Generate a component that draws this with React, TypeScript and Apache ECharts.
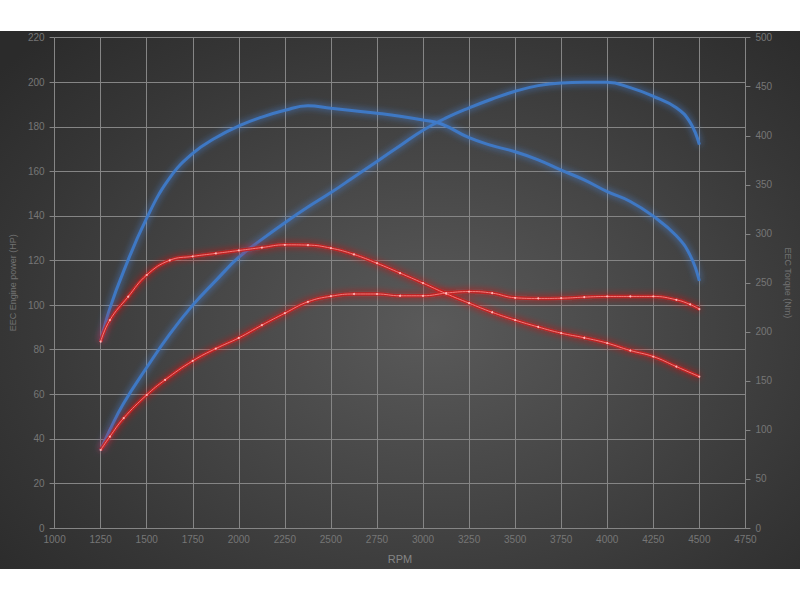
import React, { useEffect, useRef } from "react";
import * as echarts from "echarts";

// Tuned (blue) power, HP, left axis
const bluePowerRpm = [1250, 1300, 1375, 1500, 1625, 1750, 1875, 2000, 2125, 2250, 2375, 2500, 2625, 2750, 2875, 3000, 3125, 3250, 3375, 3500, 3625, 3750, 3875, 4000, 4125, 4250, 4375, 4450, 4500];
const bluePowerHp = [35, 44, 56, 72, 87, 100, 111, 121.5, 129.5, 137, 144, 150.5, 157.5, 164.5, 171.5, 178.5, 184, 188.5, 192.5, 196, 198.5, 199.7, 200, 200, 197.6, 193.7, 188.6, 182, 172];

// Tuned (blue) torque, Nm, right axis
const blueTorqueRpm = [1250, 1300, 1375, 1500, 1625, 1750, 1875, 2000, 2125, 2250, 2375, 2500, 2625, 2750, 2875, 3000, 3100, 3250, 3375, 3500, 3625, 3750, 3875, 4000, 4125, 4250, 4375, 4450, 4500];
const blueTorqueNm = [190.8, 224, 262, 316, 357, 382, 398, 410, 419, 426, 430.6, 428, 425.5, 423, 420, 416, 412, 398, 390, 383.7, 375.5, 365, 355, 343, 333, 318, 298, 278, 252];

// Stock (red) power, HP, left axis
const redPowerRpm = [1250, 1300, 1375, 1500, 1600, 1750, 1875, 2000, 2125, 2250, 2375, 2500, 2625, 2750, 2875, 3000, 3125, 3250, 3375, 3500, 3625, 3750, 3875, 4000, 4125, 4250, 4375, 4450, 4500];
const redPowerHp = [35, 41, 49.3, 59.7, 66.5, 75, 80.5, 85.3, 91, 96.4, 101.5, 104, 105, 105, 104.2, 104.2, 105.4, 106.1, 105.4, 103.3, 103, 103.1, 103.6, 103.9, 103.9, 103.9, 102.4, 100.3, 98.2];

// Stock (red) torque, Nm, right axis
const redTorqueRpm = [1250, 1300, 1400, 1500, 1625, 1750, 1875, 2000, 2125, 2250, 2375, 2500, 2625, 2750, 2875, 3000, 3125, 3250, 3375, 3500, 3625, 3750, 3875, 4000, 4125, 4250, 4375, 4500];
const redTorqueNm = [190, 212, 236, 258, 273, 277, 280, 283, 286, 288.8, 288.5, 285.4, 279, 270, 260, 249.7, 239, 229.3, 220, 212, 205, 198.7, 194, 188.5, 181, 174.8, 164.6, 154.4];

const xName = "RPM";
const leftName = "EEC Engine power (HP)";
const rightName = "EEC Torque (Nm)";

const pairs = (xs: number[], ys: number[]) => xs.map((x, i) => [x, ys[i]]);

const FONT = "Liberation Sans";
const GRID = "#858585";
const LABEL = "#767676";

export default function App() {
  const ref = useRef<HTMLDivElement>(null);
  useEffect(() => {
    if (!ref.current) return;
    const chart = echarts.init(ref.current, null, { renderer: "svg" });

    const blueGlow = (data: number[][], yAxisIndex: number) => ({
      type: "line",
      yAxisIndex,
      data,
      smooth: 0.45,
      showSymbol: false,
      symbol: "none",
      z: 2,
      lineStyle: {
        color: "rgba(62,122,200,0.95)",
        width: 3,
        shadowColor: "rgba(70,140,240,0.9)",
        shadowBlur: 7,
      },
    });
    const redGlow = (data: number[][], yAxisIndex: number) => ({
      type: "line",
      yAxisIndex,
      data,
      smooth: 0.45,
      showSymbol: false,
      symbol: "none",
      z: 3,
      lineStyle: {
        color: "rgba(200,30,30,0.85)",
        width: 3.5,
        shadowColor: "rgba(240,20,20,0.95)",
        shadowBlur: 7,
      },
    });
    const redCore = (data: number[][], yAxisIndex: number) => ({
      type: "line",
      yAxisIndex,
      data,
      smooth: 0.45,
      symbol: "circle",
      symbolSize: 2,
      showSymbol: true,
      z: 4,
      itemStyle: { color: "#ffb8b8" },
      lineStyle: { color: "#f27a7a", width: 1 },
    });

    chart.setOption({
      animation: false,
      backgroundColor: "transparent",
      textStyle: { fontFamily: FONT },
      grid: { left: 50.7, right: 51, top: 37.7, bottom: 72, containLabel: false },
      xAxis: {
        type: "value",
        min: 1000,
        max: 4750,
        interval: 250,
        name: xName,
        nameLocation: "middle",
        nameGap: 25,
        nameTextStyle: { color: "#858585", fontSize: 11, fontFamily: FONT },
        axisLine: { show: true, lineStyle: { color: GRID, width: 1 } },
        axisTick: { show: false },
        axisLabel: { color: LABEL, fontSize: 10, margin: 6, fontFamily: FONT, formatter: (v: number) => String(v) },
        splitLine: { show: true, lineStyle: { color: GRID, width: 1 } },
      },
      yAxis: [
        {
          type: "value",
          position: "left",
          min: 0,
          max: 220,
          interval: 20,
          name: leftName,
          nameLocation: "middle",
          nameGap: 36,
          nameRotate: 90,
          nameTextStyle: { color: "#727272", fontSize: 9, fontFamily: FONT },
          axisLine: { show: false },
          axisTick: { show: true, length: 5, lineStyle: { color: GRID } },
          axisLabel: { color: LABEL, fontSize: 10, margin: 10, fontFamily: FONT },
          splitLine: { show: true, lineStyle: { color: GRID, width: 1 } },
        },
        {
          type: "value",
          position: "right",
          min: 0,
          max: 500,
          interval: 50,
          name: rightName,
          nameLocation: "middle",
          nameGap: 36,
          nameRotate: -90,
          nameTextStyle: { color: "#727272", fontSize: 9, fontFamily: FONT },
          axisLine: { show: true, lineStyle: { color: GRID, width: 1 } },
          axisTick: { show: true, length: 5, lineStyle: { color: GRID } },
          axisLabel: { color: LABEL, fontSize: 10, margin: 10, fontFamily: FONT },
          splitLine: { show: false },
        },
      ],
      series: [
        blueGlow(pairs(blueTorqueRpm, blueTorqueNm), 1),
        blueGlow(pairs(bluePowerRpm, bluePowerHp), 0),
        redGlow(pairs(redTorqueRpm, redTorqueNm), 1),
        redGlow(pairs(redPowerRpm, redPowerHp), 0),
        redCore(pairs(redTorqueRpm, redTorqueNm), 1),
        redCore(pairs(redPowerRpm, redPowerHp), 0),
      ],
    });
    return () => chart.dispose();
  }, []);

  return (
    <div style={{ position: "absolute", left: 0, top: 0, width: 800, height: 600, background: "#ffffff" }}>
      <div
        style={{
          position: "absolute",
          left: 0,
          top: 31,
          width: 800,
          height: 538,
          background:
            "radial-gradient(ellipse 70% 75% at 54% 55%, #5a5a5a 0%, #474747 40%, #363636 75%, #2b2b2b 100%)",
        }}
      />
      <div ref={ref} style={{ position: "absolute", left: 0, top: 0, width: 800, height: 600 }} />
    </div>
  );
}
